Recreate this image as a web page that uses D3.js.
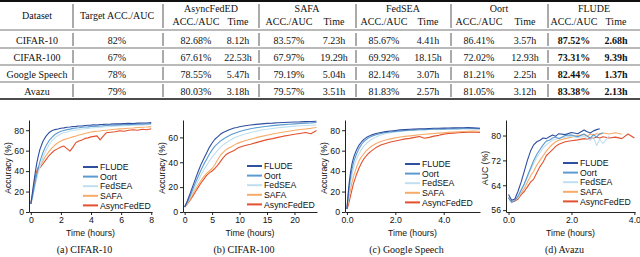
<!DOCTYPE html>
<html>
<head>
<meta charset="utf-8">
<script src="https://cdn.jsdelivr.net/npm/d3@7"></script>
<style>
  body { margin: 0; background: #fff; }
  svg { display: block; }
  .tbl text { font-family: "Liberation Serif", "DejaVu Serif", serif; font-size: 10px; fill: #111; }
  .tbl .bold { font-weight: bold; }
  .axis text { font-family: "Liberation Sans", Arial, sans-serif; font-size: 8.7px; fill: #111; }
  .axis path, .axis line { stroke: #222; }
  .lab { font-family: "Liberation Sans", Arial, sans-serif; font-size: 8.7px; fill: #111; }
  .cap { font-family: "Liberation Serif", "DejaVu Serif", serif; font-size: 10px; fill: #111; }
</style>
</head>
<body>
<svg id="chart" width="640" height="257"></svg>
<script>
// ---- table data ----
const datasets = ["CIFAR-10", "CIFAR-100", "Google Speech", "Avazu"];
const targets = ["82%", "67%", "78%", "79%"];
const methods = ["AsyncFedED", "SAFA", "FedSEA", "Oort", "FLUDE"];
const accTable = [
  [82.68, 83.57, 85.67, 86.41, 87.52],
  [67.61, 67.97, 69.92, 72.02, 73.31],
  [78.55, 79.19, 82.14, 81.21, 82.44],
  [80.03, 79.57, 81.83, 81.05, 83.38]
];
const timeTable = [
  [8.12, 7.23, 4.41, 3.57, 2.68],
  [22.53, 19.29, 18.15, 12.93, 9.39],
  [5.47, 5.04, 3.07, 2.25, 1.37],
  [3.18, 3.51, 2.57, 3.12, 2.13]
];

// ---- curve data ----
const legendOrder = ["FLUDE", "Oort", "FedSEA", "SAFA", "AsyncFedED"];
const colors = { FLUDE: "#2f4f9f", Oort: "#5b9bd0", FedSEA: "#bfdff0", SAFA: "#f6ac68", AsyncFedED: "#e3502e" };

const cifar10Time = [0, 0.1, 0.2, 0.3, 0.4, 0.5, 0.6, 0.8, 1.0, 1.2, 1.4, 1.6, 1.8, 2.0, 2.2, 2.4, 2.6, 2.8, 3.0, 3.2, 3.4, 3.6, 3.8, 4.0, 4.2, 4.4, 4.6, 4.8, 5.0, 5.3, 5.6, 5.9, 6.2, 6.5, 6.8, 7.1, 7.4, 7.7, 8.0];
const cifar10 = {
  FLUDE:      [8, 18, 29, 39, 48, 55, 61, 69, 74, 77.5, 79.5, 80.6, 81.2, 82.0, 82.3, 82.9, 83.1, 83.6, 83.8, 84.2, 84.1, 84.6, 84.8, 85.0, 85.3, 85.1, 85.6, 85.7, 85.9, 86.0, 86.3, 86.2, 86.5, 86.7, 86.6, 86.9, 87.1, 87.0, 87.4],
  Oort:       [8, 14, 22, 30, 37, 43, 49, 58, 64.5, 69.5, 73, 75.8, 77.6, 79, 79.8, 80.6, 81.1, 81.8, 82.2, 82.4, 82.9, 83.1, 83.3, 83.6, 83.7, 84.0, 84.2, 84.3, 84.6, 84.8, 85.0, 85.2, 85.3, 85.5, 85.7, 85.8, 86.0, 86.1, 86.3],
  FedSEA:     [8, 13, 20, 27, 33, 39, 44, 53, 60, 65.5, 69.5, 72.5, 74.8, 76.5, 77.5, 78.3, 79.2, 79.8, 80.3, 80.6, 81.2, 81.5, 81.8, 82.2, 82.4, 82.6, 83.0, 83.1, 83.4, 83.7, 83.9, 84.2, 84.4, 84.6, 84.8, 85.0, 85.2, 85.4, 85.6],
  SAFA:       [8, 15, 24, 31, 37, 41, 44, 50, 55, 59, 62.5, 65.5, 67.8, 69.5, 70.8, 71.7, 72.6, 73.5, 74.3, 75.4, 76.0, 76.8, 77.5, 78.2, 78.6, 79.0, 79.3, 79.7, 80.0, 80.5, 80.9, 81.3, 81.6, 82.0, 82.2, 82.6, 82.9, 83.1, 83.5],
  AsyncFedED: [8, 16, 26, 34, 40, 44, 43, 47, 51, 55, 58, 60.5, 62, 63.5, 64.5, 62, 59.5, 63.5, 68, 69.5, 70.5, 72, 72.5, 73.5, 74, 74.5, 70.5, 74, 77.5, 78, 78.5, 79.5, 79, 80, 80.5, 80, 81, 80.5, 81.5]
};

const cifar100Time = [0, 0.5, 1, 1.5, 2, 2.5, 3, 3.5, 4, 4.5, 5, 5.5, 6, 6.5, 7, 7.5, 8, 8.5, 9, 9.5, 10, 11, 12, 13, 14, 15, 16, 17, 18, 19, 20, 21, 22, 23, 24];
const cifar100 = {
  FLUDE:      [4, 9, 15, 21, 27, 33, 38.5, 43, 47.5, 52, 55.5, 58.5, 60.5, 62.5, 64, 65, 66, 66.8, 67.5, 68, 68.6, 69.4, 70.0, 70.5, 70.9, 71.3, 71.5, 71.8, 72.0, 72.2, 72.4, 72.5, 72.7, 72.8, 73.0],
  Oort:       [4, 8, 13, 18.5, 24, 29, 34, 38.5, 42.5, 46.5, 50, 53, 55, 57, 58.5, 60, 61.2, 62.3, 63.2, 64, 64.8, 66, 67, 67.8, 68.4, 69, 69.5, 69.9, 70.3, 70.6, 70.9, 71.2, 71.5, 71.7, 72.0],
  FedSEA:     [4, 7.5, 12, 16.5, 21, 25.5, 30, 34, 37.5, 41, 44, 47, 49.5, 52, 54, 55.5, 57, 58.3, 59.5, 60.5, 61.3, 62.8, 64, 65, 65.9, 66.6, 67.2, 67.8, 68.3, 68.7, 69.1, 69.4, 69.6, 69.8, 70.0],
  SAFA:       [4, 7, 10.5, 14.5, 18.5, 22, 25.5, 28.5, 31, 33, 35, 38, 42, 45.5, 48, 50, 51.5, 52.5, 53.8, 55, 55.8, 57.3, 58.5, 59.8, 60.8, 61.8, 62.8, 63.5, 64.3, 65, 65.8, 66.3, 66.8, 67.3, 68.0],
  AsyncFedED: [4, 6.5, 9.5, 13, 16.5, 20, 23.5, 26.5, 29.5, 31.5, 33, 35, 37.5, 40.5, 43.5, 46, 47.5, 48.5, 49.5, 51, 52, 53.5, 54.5, 55.8, 57, 58.2, 59, 60, 61, 61.8, 62.5, 63.2, 64, 63, 65.5]
};

const speechTime = [0, 0.05, 0.1, 0.15, 0.2, 0.25, 0.3, 0.4, 0.5, 0.6, 0.7, 0.8, 0.9, 1.0, 1.2, 1.4, 1.6, 1.8, 2.0, 2.2, 2.4, 2.6, 2.8, 3.0, 3.2, 3.4, 3.6, 3.8, 4.0, 4.2, 4.4, 4.6, 4.8, 5.0, 5.2, 5.5];
const speech = {
  FLUDE:      [3, 18, 30, 39, 46, 51, 55, 61, 65.5, 68.5, 71, 72.8, 74, 75.2, 76.8, 77.8, 78.6, 79.3, 79.8, 80.3, 80.6, 80.9, 81.1, 81.4, 81.5, 81.7, 81.9, 82.0, 82.1, 82.2, 82.3, 82.4, 82.4, 82.5, 82.3, 81.9],
  Oort:       [3, 15, 26, 34, 41, 46, 50.5, 57, 62, 66, 69, 71, 72.5, 73.8, 75.5, 76.8, 77.7, 78.3, 78.9, 79.3, 79.7, 80.0, 80.2, 80.4, 80.6, 80.8, 80.9, 81.0, 81.1, 81.2, 81.3, 81.3, 81.4, 81.4, 81.5, 81.3],
  FedSEA:     [3, 12, 21, 29, 35, 40.5, 45, 52, 57, 61, 64.5, 67, 69, 71, 73.5, 75.3, 76.6, 77.6, 78.3, 78.9, 79.4, 79.8, 80.1, 80.4, 80.6, 80.8, 81.0, 81.2, 81.4, 81.5, 81.7, 81.8, 81.9, 82.0, 82.1, 82.0],
  SAFA:       [3, 9, 16, 22, 28, 33, 37, 44, 50, 54, 57, 60, 62, 64, 67, 69, 70.5, 71.5, 72.5, 73.3, 74, 74.5, 75, 75.6, 76, 76.4, 76.8, 77.2, 77.6, 77.9, 78.2, 78.5, 78.8, 79.0, 79.2, 79.0],
  AsyncFedED: [3, 6, 11, 16, 21, 26, 30, 37, 43, 48, 52, 55, 57.5, 59.5, 63, 65.5, 67, 68.5, 69.5, 70.5, 71.5, 72, 73, 73.8, 72.2, 73, 74.2, 75, 76.2, 76.8, 77.2, 77.5, 77.8, 78.1, 78.3, 77.8]
};

const avazuTime = [0, 0.1, 0.2, 0.3, 0.4, 0.5, 0.6, 0.7, 0.8, 0.9, 1.0, 1.1, 1.2, 1.3, 1.4, 1.5, 1.6, 1.8, 2.0, 2.2, 2.4, 2.5, 2.6, 2.7, 2.8, 2.9, 3.0, 3.2, 3.4, 3.6, 3.8, 4.0];
const avazu = {
  FLUDE:      [61, 59.2, 59.6, 62, 65, 68.5, 72, 75, 77, 78, 78.5, 79.2, 79.0, 79.6, 80.2, 79.8, 80.6, 80.3, 81.0, 80.6, 81.8, 81.2, 80.8, 81.5, 81.9, 82.2, null, null, null, null, null, null],
  Oort:       [60, 58.5, 59, 60.5, 62.5, 64.5, 67, 69.5, 72, 74, 75.5, 77, 78.2, 78.5, 79.2, 79.5, 79, 80, 80.2, 79.6, 80.5, 79.8, 79.2, 80.3, 79.5, 80.6, 80.8, null, null, null, null, null],
  FedSEA:     [60, 59, 59.5, 60, 62, 64, 66.5, 69, 71, 73, 74.5, 76, 77, 77.8, 78.5, 78.8, 79.2, 79.5, 79.8, 79.3, 79.8, 79.0, 78.5, 79.5, 76.8, 78.8, 77.5, 80.0, null, null, null, null],
  SAFA:       [60, 58.8, 59.2, 60, 61.5, 63, 65, 67, 68.5, 70.5, 72, 73.5, 75, 76.2, 77.2, 78, 78.5, 79, 79.5, 80, 80.3, 79.8, 80.5, 80.2, 80.6, 80.3, 80.8, 80.5, 80.9, 80.4, null, null],
  AsyncFedED: [60, 58.6, 58.9, 59.5, 61, 62, 63.5, 65, 66, 68, 70, 71.5, 73.5, 74.5, 75.5, 76.5, 77.2, 78, 78.3, 78.6, 79, 78.8, 79.3, 79.1, 79.5, 79.2, 79.6, 79.2, 79.5, 79.0, 80.5, 79.2]
};

const panels = [
  { time: cifar10Time, series: cifar10, xDomain: [-0.12, 8.05], xRange: [29, 152], yDomain: [0, 90], xTicks: [0, 2, 4, 6, 8], yTicks: [0, 20, 40, 60, 80], yLabel: "Accuracy (%)", caption: "(a)  CIFAR-10", legend: [83, 167] },
  { time: cifar100Time, series: cifar100, xDomain: [-0.3, 24.1], xRange: [183, 317], yDomain: [0, 74], xTicks: [0, 5, 10, 15, 20], yTicks: [0, 20, 40, 60], yLabel: "Accuracy (%)", caption: "(b)  CIFAR-100", legend: [247, 166] },
  { time: speechTime, series: speech, xDomain: [-0.08, 5.5], xRange: [345, 480], yDomain: [0, 90], xTicks: [0, 2, 4], yTicks: [0, 20, 40, 60, 80], yLabel: "Accuracy (%)", caption: "(c)  Google Speech", legend: [405, 164] },
  { time: avazuTime, series: avazu, xDomain: [-0.08, 4.02], xRange: [506, 635], yDomain: [55.4, 85], xTicks: [0, 2, 4], yTicks: [56, 64, 72, 80], yLabel: "AUC (%)", caption: "(d)  Avazu", legend: [563, 163] }
];

const svg = d3.select("#chart");

// ---- table ----
const tbl = svg.append("g").attr("class", "tbl");
const colSep = [73, 163, 259, 356, 451, 548];
const rowLines = [30, 48, 65, 82];
const rowCenters = [40, 57, 74, 91];
const accX = [196, 289, 384, 479, 574];
const timeX = [238, 334, 428, 525, 616];
const groupX = [211, 307, 403, 499, 594];

tbl.append("line").attr("x1", 0).attr("x2", 640).attr("y1", 1).attr("y2", 1).attr("stroke", "#111").attr("stroke-width", 2);
tbl.append("line").attr("x1", 0).attr("x2", 640).attr("y1", 99).attr("y2", 99).attr("stroke", "#111").attr("stroke-width", 1.6);
rowLines.forEach(y => {
  tbl.append("line").attr("x1", 0).attr("x2", 640).attr("y1", y).attr("y2", y).attr("stroke", "#777").attr("stroke-width", 1.2);
});
// vertical separators
const bands = [[4, 28], [33, 46], [50, 63], [67, 80], [84, 97]];
bands.forEach(([y1, y2]) => {
  colSep.forEach(x => {
    tbl.append("line").attr("x1", x).attr("x2", x).attr("y1", y1).attr("y2", y2).attr("stroke", "#444").attr("stroke-width", 0.9);
  });
});

tbl.append("text").attr("x", 37).attr("y", 18.5).attr("text-anchor", "middle").text("Dataset");
tbl.append("text").attr("x", 117).attr("y", 18.5).attr("text-anchor", "middle").text("Target ACC./AUC");
methods.forEach((m, i) => {
  tbl.append("text").attr("x", groupX[i]).attr("y", 12).attr("text-anchor", "middle").text(m);
  tbl.append("text").attr("x", accX[i]).attr("y", 25).attr("text-anchor", "middle").text("ACC./AUC");
  tbl.append("text").attr("x", timeX[i]).attr("y", 25).attr("text-anchor", "middle").text("Time");
});
datasets.forEach((d, r) => {
  const y = rowCenters[r] + 3.5;
  tbl.append("text").attr("x", 37).attr("y", y).attr("text-anchor", "middle").text(d);
  tbl.append("text").attr("x", 117).attr("y", y).attr("text-anchor", "middle").text(targets[r]);
  methods.forEach((m, i) => {
    const b = m === "FLUDE";
    tbl.append("text").attr("x", accX[i]).attr("y", y).attr("text-anchor", "middle")
      .classed("bold", b).text(accTable[r][i].toFixed(2) + "%");
    tbl.append("text").attr("x", timeX[i]).attr("y", y).attr("text-anchor", "middle")
      .classed("bold", b).text(timeTable[r][i].toFixed(2) + "h");
  });
});

// ---- line charts ----
const yRange = [212, 120];
panels.forEach(p => {
  const g = svg.append("g");
  const x = d3.scaleLinear().domain(p.xDomain).range(p.xRange);
  const y = d3.scaleLinear().domain(p.yDomain).range(yRange);

  const line = d3.line()
    .defined(d => d[1] != null)
    .x(d => x(d[0]))
    .y(d => y(d[1]));

  legendOrder.slice().reverse().forEach(name => {
    const pts = p.time.map((t, i) => [t, p.series[name][i]]);
    g.append("path").attr("d", line(pts)).attr("fill", "none")
      .attr("stroke", colors[name]).attr("stroke-width", 1.1).attr("stroke-linejoin", "round");
  });

  g.append("g").attr("class", "axis").attr("transform", `translate(0,${yRange[0]})`)
    .call(d3.axisBottom(x).tickValues(p.xTicks).tickSize(3).tickPadding(2).tickSizeOuter(0));
  g.append("g").attr("class", "axis").attr("transform", `translate(${p.xRange[0]},0)`)
    .call(d3.axisLeft(y).tickValues(p.yTicks).tickSize(3).tickPadding(2).tickSizeOuter(0));

  const cx = (p.xRange[0] + p.xRange[1]) / 2;
  g.append("text").attr("class", "lab").attr("x", cx).attr("y", 236).attr("text-anchor", "middle").text("Time (hours)");
  g.append("text").attr("class", "lab")
    .attr("transform", `translate(${p.xRange[0] - 18},168) rotate(-90)`)
    .attr("text-anchor", "middle").text(p.yLabel);
  g.append("text").attr("class", "cap").attr("x", cx - 6).attr("y", 253).attr("text-anchor", "middle").text(p.caption);

  // legend
  const [lx, ly] = p.legend;
  legendOrder.forEach((name, i) => {
    const yy = ly + i * 9.6;
    g.append("line").attr("x1", lx).attr("x2", lx + 15).attr("y1", yy).attr("y2", yy)
      .attr("stroke", colors[name]).attr("stroke-width", 2);
    g.append("text").attr("class", "lab").attr("x", lx + 17).attr("y", yy + 3.1).text(name);
  });
});
</script>
</body>
</html>
